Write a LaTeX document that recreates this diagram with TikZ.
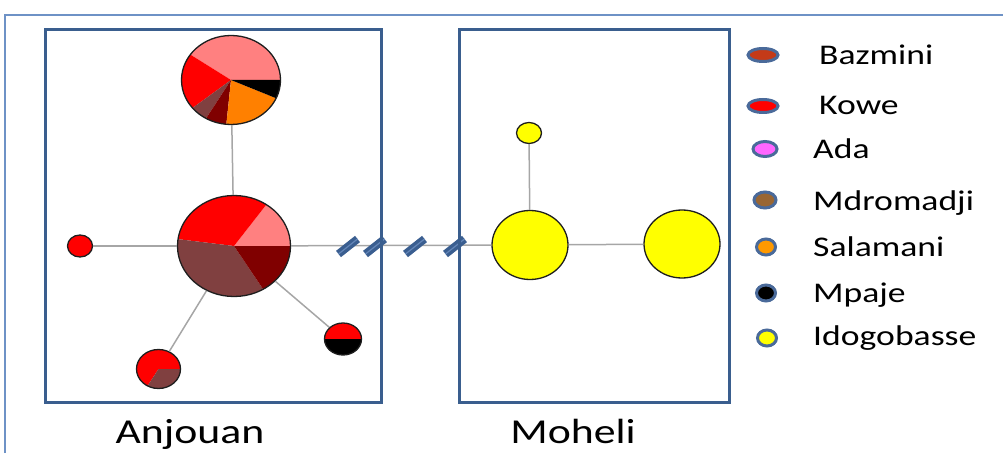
\documentclass[tikz,border=0pt]{standalone}
\usepackage{fontspec}
\setmainfont{Carlito}[FakeStretch=1.25]
\usetikzlibrary{shapes.geometric}
\definecolor{framecol}{RGB}{110,146,198}
\definecolor{boxcol}{RGB}{58,94,142}
\definecolor{edgecol}{RGB}{166,166,166}
\definecolor{brkdark}{RGB}{58,94,144}
\definecolor{brklight}{RGB}{100,134,184}
\definecolor{nodeborder}{RGB}{30,30,30}
\definecolor{hpink}{RGB}{255,128,128}
\definecolor{hred}{RGB}{255,0,0}
\definecolor{hmauve}{RGB}{128,64,64}
\definecolor{hdark}{RGB}{128,0,0}
\definecolor{horange}{RGB}{255,128,0}
\definecolor{hyellow}{RGB}{255,255,0}
\definecolor{legborder}{RGB}{74,106,154}
\definecolor{cbaz}{RGB}{196,58,24}
\definecolor{cada}{RGB}{255,102,255}
\definecolor{cmdr}{RGB}{153,102,51}
\definecolor{csal}{RGB}{255,153,0}
\newcommand\pslice[3]{\fill[#1] (path picture bounding box.center) -- ++(#2:120pt) arc[start angle=#2,end angle=#3,radius=120pt] -- cycle;}
\begin{document}
\begin{tikzpicture}[x=1pt,y=1pt,
  hap/.style={ellipse, draw=nodeborder, line width=1.3pt, inner sep=0pt},
  edge/.style={draw=edgecol, line width=1.5pt},
  brk/.style={draw=brkdark, line width=3.4pt, double=brklight, double distance=1.2pt},
  islandbox/.style={draw=boxcol, line width=3pt},
  leg/.style={ellipse, draw=legborder, line width=3pt, inner sep=0pt},
  legtext/.style={anchor=base west, inner sep=0pt, font=\fontsize{28.5}{32}\selectfont, text=black},
  island/.style={anchor=base, inner sep=0pt, font=\fontsize{35}{40}\selectfont, text=black}]
\useasboundingbox (0,0) rectangle (1003,453);
% outer frame
\draw[framecol, line width=1.5pt] (5,0) -- (5,438) -- (1003,438);
% haplotype nodes
\node[hap, minimum width=99pt, minimum height=89pt, path picture={
  \pslice{hpink}{0}{148}\pslice{hred}{148}{216}\pslice{hmauve}{216}{237}
  \pslice{hdark}{237}{264}\pslice{horange}{264}{338}\pslice{black}{338}{360}}] (T) at (231,373) {};
\node[hap, minimum width=113pt, minimum height=101pt, path picture={
  \pslice{hpink}{0}{52}\pslice{hred}{52}{173}\pslice{hmauve}{173}{304}\pslice{hdark}{304}{360}}] (M) at (234,207) {};
\node[hap, fill=hred, minimum width=25pt, minimum height=22pt] (L) at (80,207) {};
\node[hap, minimum width=44pt, minimum height=39pt, path picture={
  \pslice{hred}{0}{237}\pslice{hmauve}{237}{360}}] (BL) at (158.5,84) {};
\node[hap, minimum width=37pt, minimum height=32pt, path picture={
  \pslice{hred}{0}{180}\pslice{black}{180}{360}}] (BR) at (343,114) {};
\node[hap, fill=hyellow, minimum width=25pt, minimum height=21pt] (Y0) at (529,320) {};
\node[hap, fill=hyellow, minimum width=76pt, minimum height=69pt] (Y1) at (530,208) {};
\node[hap, fill=hyellow, minimum width=76pt, minimum height=68pt] (Y2) at (682,209) {};
% connectors
\draw[edge] (T) -- (M);
\draw[edge] (L) -- (M);
\draw[edge] (M) -- (BL);
\draw[edge] (M) -- (BR);
\draw[edge] (M) -- (Y1);
\draw[edge] (Y0) -- (Y1);
\draw[edge] (Y1) -- (Y2);
% break marks
\coordinate (b1) at (348,206.5);
\coordinate (b2) at (375,206.5);
\coordinate (b3) at (415,206.5);
\coordinate (b4) at (455,206.5);
\foreach \b in {b1,b2,b3,b4}{\draw[brk, shift={(\b)}] (-9.5,-7.5) -- (9.5,7.5);}
% island boxes
\draw[islandbox] (45,51) rectangle (381,423);
\draw[islandbox] (459,51) rectangle (729,423);
\node[island] (anj) at (190,10) {Anjouan};
\node[island] (moh) at (573,10) {Moheli};
% legend
\node[leg, fill=cbaz, minimum width=30pt, minimum height=13pt] (l1) at (763,398) {};
\node[leg, fill=hred, minimum width=30pt, minimum height=13pt] (l2) at (763,347) {};
\node[leg, fill=cada, minimum width=24pt, minimum height=15pt] (l3) at (765,304) {};
\node[leg, fill=cmdr, minimum width=22pt, minimum height=16pt] (l4) at (765,253) {};
\node[leg, fill=csal, minimum width=19pt, minimum height=16pt] (l5) at (766,206) {};
\node[leg, fill=black, minimum width=19pt, minimum height=16pt] (l6) at (766,160) {};
\node[leg, fill=hyellow, minimum width=19pt, minimum height=16pt] (l7) at (767,115) {};
\node[legtext] (t1) at (819,388) {Bazmini};
\node[legtext] (t2) at (819,338) {Kowe};
\node[legtext] (t3) at (813,294.7) {Ada};
\node[legtext] (t4) at (813,243) {Mdromadji};
\node[legtext] (t5) at (813,196.3) {Salamani};
\node[legtext] (t6) at (813,150.3) {Mpaje};
\node[legtext] (t7) at (813,108) {Idogobasse};
\end{tikzpicture}
\end{document}
